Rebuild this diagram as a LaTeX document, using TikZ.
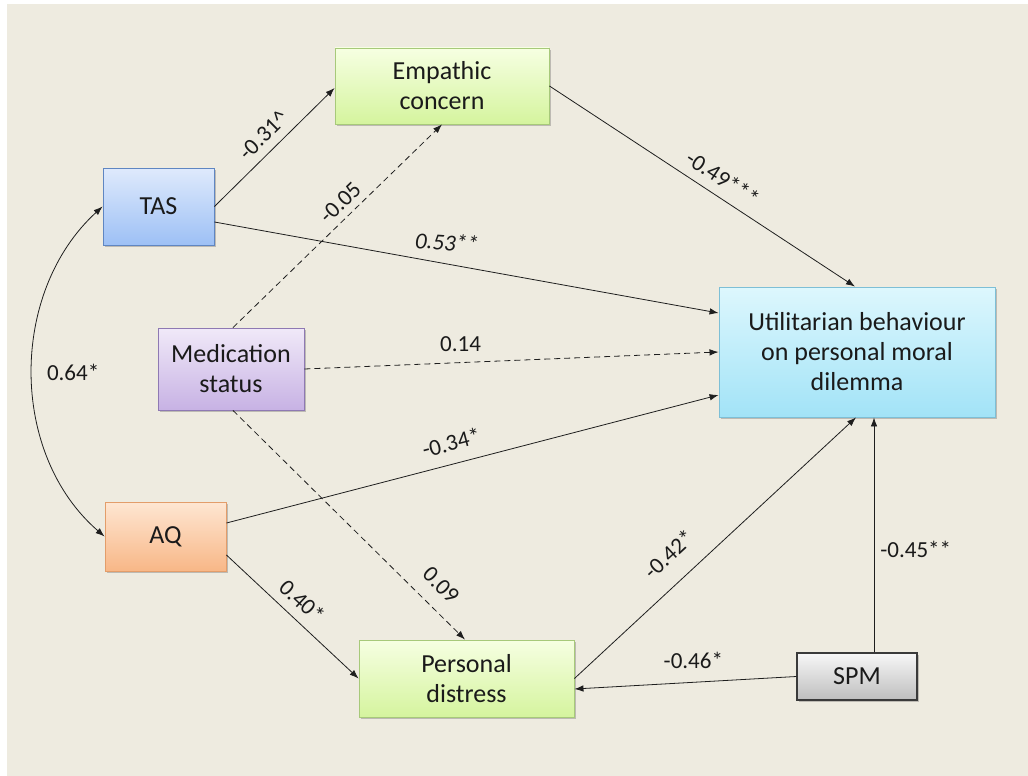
\documentclass[tikz,border=0pt]{standalone}
\usepackage{fontspec}
\setmainfont{Carlito}
\usetikzlibrary{arrows.meta,shadows,positioning}
\definecolor{bg}{HTML}{EEEBE0}
\definecolor{txt}{HTML}{1A1A1A}
\definecolor{tasT}{HTML}{DFEAFC}
\definecolor{tasB}{HTML}{9DC0F5}
\definecolor{tasD}{HTML}{5F86C2}
\definecolor{empT}{HTML}{F6FFE2}
\definecolor{empB}{HTML}{D5F49E}
\definecolor{empD}{HTML}{A7C97A}
\definecolor{medT}{HTML}{F0E9F8}
\definecolor{medB}{HTML}{C7B2E4}
\definecolor{medD}{HTML}{8E79B3}
\definecolor{aqT}{HTML}{FEE6D2}
\definecolor{aqB}{HTML}{F8B787}
\definecolor{aqD}{HTML}{E39D6A}
\definecolor{utT}{HTML}{DDF7FD}
\definecolor{utB}{HTML}{A2E3F7}
\definecolor{utD}{HTML}{7DBFD6}
\definecolor{spT}{HTML}{F7F7F7}
\definecolor{spB}{HTML}{BEBEBE}
\definecolor{spD}{HTML}{3A3A3A}
\definecolor{lin}{HTML}{1E1E1E}
\begin{document}
\begin{tikzpicture}[x=1pt,y=-1pt,
  box/.style={rectangle, line width=0.9pt, inner sep=0pt, align=center,
    font=\fontsize{26}{30}\selectfont, text=txt,
    drop shadow={shadow xshift=2pt, shadow yshift=-2pt, opacity=0.3, fill=black!70}},
  lab/.style={font=\fontsize{23}{27}\selectfont, inner sep=0pt, text=txt},
  arr/.style={draw=lin, line width=0.8pt, -{Latex[length=9pt,width=6.5pt]}},
  dsh/.style={dash pattern=on 6pt off 4pt}
]
\fill[white] (0,0) rectangle (1028,776);
\fill[bg] (7,4) rectangle (1028,776);
\useasboundingbox (0,0) rectangle (1028,776);

\node[box, minimum width=214pt, minimum height=76pt, top color=empT, bottom color=empB, draw=empD] (emp) at (442,86) {Empathic\\concern};
\node[box, minimum width=111pt, minimum height=77pt, top color=tasT, bottom color=tasB, draw=tasD] (tas) at (158.5,206.5) {TAS};
\node[box, minimum width=146pt, minimum height=82pt, top color=medT, bottom color=medB, draw=medD] (med) at (231,369) {Medication\\status};
\node[box, minimum width=121pt, minimum height=69pt, top color=aqT, bottom color=aqB, draw=aqD] (aq) at (165.5,536.5) {AQ};
\node[box, minimum width=276pt, minimum height=130pt, top color=utT, bottom color=utB, draw=utD] (util) at (857,352) {Utilitarian behaviour\\on personal moral\\dilemma};
\node[box, minimum width=215pt, minimum height=77pt, top color=empT, bottom color=empB, draw=empD] (pd) at (466.5,678.5) {Personal\\distress};
\node[box, minimum width=120pt, minimum height=47pt, top color=spT, bottom color=spB, draw=spD, line width=1.4pt] (spm) at (857,676.5) {SPM};

\draw[arr] (tas.east) -- ([yshift=-2pt]emp.west)
  node[lab, pos=.505, sloped, above=8.5pt] {-0.31\textasciicircum};
\draw[arr] ([yshift=-15.5pt]tas.east) -- ([yshift=39pt]util.west)
  node[lab, pos=.46, above=13pt, rotate=-4] {\itshape 0.53**};
\draw[arr] (emp.east) -- ([xshift=-2pt]util.north)
  node[lab, pos=.535, sloped, above=9.5pt] {-0.49***};
\draw[arr, dsh] ([xshift=2pt]med.north) -- (emp.south)
  node[lab, pos=.563, sloped, above=7pt] {-0.05};
\draw[arr, dsh] (med.east) -- (util.west)
  node[lab, pos=.377, above=10.5pt] {0.14};
\draw[arr, dsh] ([xshift=2pt]med.south) -- ([xshift=-1.5pt]pd.north)
  node[lab, pos=.83, sloped, above=14pt] {0.09};
\draw[arr] ([yshift=13.5pt]aq.east) -- ([yshift=-43pt]util.west)
  node[lab, pos=.4675, sloped, above=12.5pt] {-0.34*};
\draw[arr] ([yshift=-18.5pt]aq.east) -- (pd.west)
  node[lab, pos=.48, sloped, above=9.5pt] {0.40*};
\draw[arr] (pd.east) -- ([xshift=-1pt]util.south)
  node[lab, pos=.40, sloped, above=18.5pt] {-0.42*};
\draw[arr] (spm.west) -- ([yshift=-10.5pt]pd.east)
  node[lab, pos=.464, above=13.5pt] {-0.46*};
\draw[arr] ([xshift=17pt]spm.north) -- ([xshift=17pt]util.south)
  node[lab, pos=.44, right=6pt] {-0.45**};
\draw[draw=lin, line width=0.8pt, {Latex[length=9pt,width=6.5pt]}-{Latex[length=9pt,width=6.5pt]}]
  (tas.west) .. controls (9,292) and (9,454) .. (aq.west)
  node[lab, pos=.5, right=14pt] {0.64*};
\end{tikzpicture}
\end{document}
